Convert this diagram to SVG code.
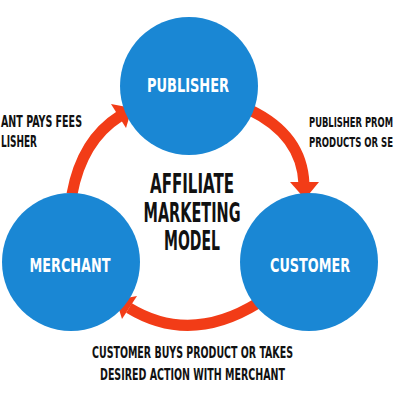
<svg xmlns="http://www.w3.org/2000/svg" width="400" height="400" viewBox="0 0 400 400">
<style>
.node{fill:#1a87d4}
.nt{fill:#fff;font-family:"DejaVu Sans Condensed","DejaVu Sans",sans-serif;font-weight:bold;font-size:20px;text-anchor:middle}
.lbl{fill:#111;font-family:"DejaVu Sans Condensed","DejaVu Sans",sans-serif;font-weight:bold;font-size:15px}
.rl{font-size:14px}
.title{fill:#111;font-family:"DejaVu Sans Condensed","DejaVu Sans",sans-serif;font-weight:bold;font-size:26px;text-anchor:middle}
.arr{fill:none;stroke:#f23c17;stroke-width:11}
.head{fill:#f23c17}
</style>
<rect width="400" height="400" fill="#fff"/>
<g id="connectors">
<path class="arr" d="M72,194 Q82,140 120,116"/>
<polygon class="head" points="132,108 111,104 126,128"/>
<path class="arr" d="M250,110 Q302,135 304,184"/>
<polygon class="head" points="305,199 290,182 319,182"/>
<path class="arr" d="M258,303 Q190,345 129,308"/>
<polygon class="head" points="116,300 137,296 122,319"/>
</g>
<g id="publisher">
<circle class="node" cx="189" cy="86" r="69"/>
<text class="nt" x="188" y="92" textLength="82" lengthAdjust="spacingAndGlyphs">PUBLISHER</text>
</g>
<g id="merchant">
<circle class="node" cx="71" cy="262" r="69"/>
<text class="nt" x="70" y="272" textLength="81" lengthAdjust="spacingAndGlyphs">MERCHANT</text>
</g>
<g id="customer">
<circle class="node" cx="309" cy="262" r="69"/>
<text class="nt" x="310" y="272" textLength="80" lengthAdjust="spacingAndGlyphs">CUSTOMER</text>
</g>
<g id="title">
<text class="title" x="192" y="193" textLength="84" lengthAdjust="spacingAndGlyphs">AFFILIATE</text>
<text class="title" x="192" y="222" textLength="97" lengthAdjust="spacingAndGlyphs">MARKETING</text>
<text class="title" x="192" y="250" textLength="56" lengthAdjust="spacingAndGlyphs">MODEL</text>
</g>
<g id="labels">
<text class="lbl" x="1" y="127" textLength="81" lengthAdjust="spacingAndGlyphs">ANT PAYS FEES</text>
<text class="lbl" x="1" y="147" textLength="36" lengthAdjust="spacingAndGlyphs">LISHER</text>
<text class="lbl rl" x="309" y="127" textLength="84" lengthAdjust="spacingAndGlyphs">PUBLISHER PROM</text>
<text class="lbl rl" x="309" y="147" textLength="84" lengthAdjust="spacingAndGlyphs">PRODUCTS OR SE</text>
<text class="lbl" x="92" y="358" textLength="201" lengthAdjust="spacingAndGlyphs">CUSTOMER BUYS PRODUCT OR TAKES</text>
<text class="lbl" x="100" y="380" textLength="185" lengthAdjust="spacingAndGlyphs">DESIRED ACTION WITH MERCHANT</text>
</g>
</svg>
